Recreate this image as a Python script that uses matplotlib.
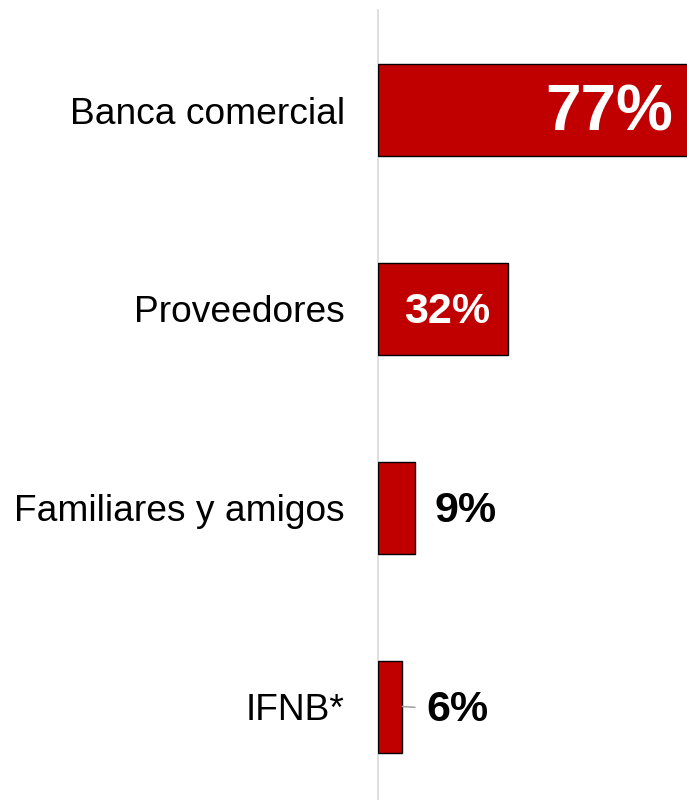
import matplotlib
matplotlib.use("Agg")
import matplotlib.pyplot as plt

plt.rcParams['font.family'] = ['Liberation Sans', 'DejaVu Sans']

categories = ["Banca comercial", "Proveedores", "Familiares y amigos", "IFNB*"]
values = [77, 32, 9, 6]
labels = ["77%", "32%", "9%", "6%"]

bar_color = "#C00000"

fig = plt.figure(figsize=(6.87, 8), dpi=100)
ax = fig.add_axes([378 / 687, 0, 1 - 378 / 687, 790 / 800])

pos = list(range(len(categories)))
ax.barh(pos, values, height=0.463, color=bar_color, edgecolor="black", linewidth=1.0, zorder=3)

ax.set_xlim(0, 309 / 4.0625)
ax.set_ylim(3.47, -0.503)

ax.set_yticks(pos)
ax.set_yticklabels(categories, fontsize=26.7)
ax.tick_params(axis="y", length=0, pad=24)
ax.set_xticks([])

for s in ["top", "right", "bottom"]:
    ax.spines[s].set_visible(False)
ax.spines["left"].set_color("#D9D9D9")
ax.spines["left"].set_linewidth(1.2)

for y, v, lab in zip(pos, values, labels):
    if v >= 20:
        # label inside the bar, white
        size = 46 if v > 50 else 31
        ax.annotate(lab, (v, y), xytext=(-13, -2.5), textcoords="offset points",
                    ha="right", va="center", fontsize=size, fontweight="bold",
                    color="white", zorder=4, annotation_clip=False)
    elif v >= 8:
        ax.annotate(lab, (v, y), xytext=(14, -2.5), textcoords="offset points",
                    ha="left", va="center", fontsize=31, fontweight="bold",
                    color="black", zorder=4)
    else:
        # short bar: label pushed out with a leader line
        ax.annotate(lab, (v, y), xytext=(17, -2.5), textcoords="offset points",
                    ha="left", va="center", fontsize=31, fontweight="bold",
                    color="black", zorder=4,
                    arrowprops=dict(arrowstyle="-", color="#A6A6A6", lw=1.2,
                                    shrinkA=6, shrinkB=0,
                                    relpos=(0, 0.55)))

fig.savefig("out.png", dpi=100)
plt.close(fig)
